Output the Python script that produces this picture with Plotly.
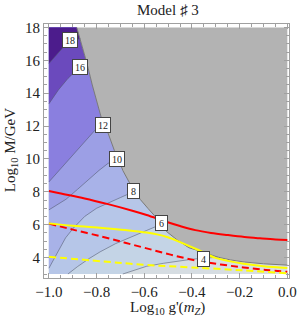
import plotly.graph_objects as go

# ---------------- data ----------------
# upper-right excluded (gray) region boundary, from top to bottom-right
boundary_x = [-0.883, -0.862, -0.840, -0.818, -0.800, -0.780, -0.765, -0.748, -0.725, -0.708,
              -0.690, -0.660, -0.640, -0.617, -0.585, -0.553, -0.533, -0.508, -0.460, -0.413,
              -0.373, -0.330, -0.290, -0.240, -0.180, -0.100, 0.0]
boundary_y = [18.0, 17.0, 15.8, 14.5, 13.6, 12.5, 12.1, 11.45, 10.5, 10.02,
              9.3, 8.5, 8.02, 7.54, 7.0, 6.48, 6.05, 5.6, 5.05, 4.6,
              4.42, 4.2, 4.02, 3.86, 3.73, 3.62, 3.54]

# contour lines (level -> polyline from plot edge to the gray boundary)
c4_x = [-0.69, -0.64, -0.59, -0.52, -0.455, -0.40, -0.35, -0.29]
c4_y = [3.0, 3.25, 3.47, 3.65, 3.80, 3.90, 3.96, 4.02]
c6_x = [-0.92, -0.88, -0.83, -0.785, -0.72, -0.65, -0.59, -0.549, -0.533]
c6_y = [3.0, 3.45, 3.95, 4.35, 4.85, 5.30, 5.65, 5.90, 6.05]
c8_x = [-1.0, -0.96, -0.93, -0.898, -0.85, -0.80, -0.75, -0.70, -0.646, -0.640]
c8_y = [3.35, 4.45, 5.2, 5.78, 6.5, 7.0, 7.35, 7.65, 8.0, 8.02]
c10_x = [-1.0, -0.965, -0.928, -0.88, -0.83, -0.79, -0.752, -0.715, -0.708]
c10_y = [6.9, 7.2, 7.55, 8.15, 8.8, 9.3, 9.73, 10.0, 10.02]
c12_x = [-1.0, -0.955, -0.92, -0.88, -0.84, -0.806, -0.774, -0.765]
c12_y = [8.6, 9.33, 9.95, 10.6, 11.2, 11.76, 12.07, 12.1]
c16_x = [-1.0, -0.96, -0.92, -0.898, -0.87, -0.839]
c16_y = [13.35, 14.2, 14.9, 15.2, 15.6, 15.75]
c18_x = [-1.0, -0.965, -0.935, -0.913, -0.867]
c18_y = [15.8, 16.4, 16.9, 17.24, 17.3]

contour_levels = [4, 6, 8, 10, 12, 16, 18]
contour_xs = [c4_x, c6_x, c8_x, c10_x, c12_x, c16_x, c18_x]
contour_ys = [c4_y, c6_y, c8_y, c10_y, c12_y, c16_y, c18_y]
region_colors = ["#c4d4e6", "#b6c6e8", "#a8b2e8", "#9c9fe5", "#8a7fdf", "#6b4abd", "#4c1c8c"]
base_color = "#d6dde2"

label_x = [-0.35, -0.528, -0.646, -0.715, -0.774, -0.870, -0.913]
label_y = [3.91, 6.13, 8.02, 10.0, 12.07, 15.6, 17.24]

# constraint curves
red_solid_x = [-1.0, -0.955, -0.85, -0.752, -0.65, -0.59, -0.508, -0.45, -0.386, -0.32, -0.251, -0.18, -0.115, -0.05, 0.0]
red_solid_y = [8.05, 7.91, 7.6, 7.25, 6.85, 6.59, 6.18, 5.92, 5.67, 5.5, 5.37, 5.25, 5.17, 5.1, 5.07]
yellow_solid_x = [-1.0, -0.9, -0.776, -0.68, -0.59, -0.508, -0.44, -0.373, -0.305, -0.25, -0.183, -0.1, 0.0]
yellow_solid_y = [6.08, 5.93, 5.8, 5.68, 5.52, 5.27, 4.88, 4.46, 4.0, 3.8, 3.62, 3.47, 3.37]
red_dash_x = [-1.0, -0.9, -0.776, -0.68, -0.59, -0.49, -0.386, -0.28, -0.183, -0.09, 0.0]
red_dash_y = [6.07, 5.7, 5.27, 4.9, 4.56, 4.18, 3.83, 3.58, 3.4, 3.25, 3.13]
yellow_dash_x = [-1.0, -0.776, -0.59, -0.4, -0.183, 0.0]
yellow_dash_y = [4.05, 3.77, 3.55, 3.4, 3.22, 3.04]

X_MIN, X_MAX, Y_MIN, Y_MAX = -1.0, 0.0, 3.0, 18.0

# ---------------- build figure ----------------
fig = go.Figure()

def add_poly(xs, ys, color):
    fig.add_trace(go.Scatter(x=xs, y=ys, mode="lines", fill="toself", fillcolor=color,
                             line=dict(width=0, color=color), hoverinfo="skip", showlegend=False))

# base region: everything left/below the boundary
bx = [X_MIN, X_MAX] + boundary_x[::-1] + [X_MIN]
by = [Y_MIN, Y_MIN] + boundary_y[::-1] + [Y_MAX]
add_poly(bx, by, base_color)

# regions above each contour level
for cx, cy, col in zip(contour_xs, contour_ys, region_colors):
    ey = cy[-1]
    up = [(x, y) for x, y in zip(boundary_x, boundary_y) if y > ey][::-1]
    px = list(cx) + [p[0] for p in up] + [X_MIN]
    py = list(cy) + [p[1] for p in up] + [Y_MAX]
    if cx[0] > X_MIN:
        px += [X_MIN]
        py += [Y_MIN]
    px += [cx[0]]
    py += [cy[0]]
    add_poly(px, py, col)

# gray excluded region
gx = boundary_x + [X_MAX]
gy = boundary_y + [Y_MAX]
add_poly(gx, gy, "#b3b3b3")

# contour lines
for cx, cy in zip(contour_xs, contour_ys):
    fig.add_trace(go.Scatter(x=cx, y=cy, mode="lines", line=dict(color="rgba(80,88,110,0.7)", width=0.8),
                             hoverinfo="skip", showlegend=False))
fig.add_trace(go.Scatter(x=boundary_x, y=boundary_y, mode="lines",
                         line=dict(color="#7a7a7a", width=1), hoverinfo="skip", showlegend=False))

# constraint curves
fig.add_trace(go.Scatter(x=red_solid_x, y=red_solid_y, mode="lines", line=dict(color="#ff0000", width=2, shape="spline"),
                         hoverinfo="skip", showlegend=False))
fig.add_trace(go.Scatter(x=red_dash_x, y=red_dash_y, mode="lines",
                         line=dict(color="#ff0000", width=2, dash="7px,4px", shape="spline"),
                         hoverinfo="skip", showlegend=False))
fig.add_trace(go.Scatter(x=yellow_solid_x, y=yellow_solid_y, mode="lines", line=dict(color="#ffff00", width=2, shape="spline"),
                         hoverinfo="skip", showlegend=False))
fig.add_trace(go.Scatter(x=yellow_dash_x, y=yellow_dash_y, mode="lines",
                         line=dict(color="#ffff00", width=2, dash="7px,4px", shape="spline"),
                         hoverinfo="skip", showlegend=False))

serif = "Liberation Serif, DejaVu Serif, serif"

# contour labels
for lx, ly, lv in zip(label_x, label_y, contour_levels):
    fig.add_annotation(x=lx, y=ly, xref="x", yref="y", text=str(lv), showarrow=False,
                       font=dict(family=serif, size=10, color="#222"),
                       width=12 if lv >= 10 else 9, height=12,
                       bgcolor="white", bordercolor="#444", borderwidth=1, borderpad=1)

fig.add_annotation(x=0.506, y=1.057, xref="paper", yref="paper", text="Model \u266f 3", showarrow=False,
                   font=dict(family=serif, size=15, color="#222"), yanchor="middle")
fig.add_annotation(x=0.506, y=-0.118, xref="paper", yref="paper",
                   text="Log<sub>10</sub> g'(<i>m</i><sub><i>Z</i></sub>)", showarrow=False,
                   font=dict(family=serif, size=15, color="#222"), yanchor="middle")
fig.add_annotation(x=-0.134, y=0.504, xref="paper", yref="paper",
                   text="Log<sub>10</sub> M/GeV", showarrow=False, textangle=-90,
                   font=dict(family=serif, size=15, color="#222"), xanchor="center", yanchor="middle")

axis_common = dict(showgrid=False, zeroline=False, showline=True, linecolor="#a0a0a0", linewidth=1,
                   mirror="ticks", ticks="inside", tickcolor="#a0a0a0", ticklen=5, tickwidth=1,
                   tickfont=dict(family=serif, size=15, color="#222"))
fig.update_xaxes(range=[-1.0205, 0.007], tick0=-1.0, dtick=0.2, tickformat=".1f",
                 minor=dict(dtick=0.05, ticks="inside", ticklen=3, tickcolor="#a0a0a0", showgrid=False),
                 **axis_common)
fig.update_yaxes(range=[2.757, 18.21], tick0=0, dtick=2,
                 minor=dict(dtick=0.5, ticks="inside", ticklen=3, tickcolor="#a0a0a0", showgrid=False),
                 **axis_common)

fig.update_layout(width=307, height=325, margin=dict(l=44, r=10, t=24, b=47),
                  paper_bgcolor="white", plot_bgcolor="white", showlegend=False)

fig.write_html("out.html", config={"displayModeBar": False},
               post_script="document.body.style.margin='0';document.body.style.padding='0';")
